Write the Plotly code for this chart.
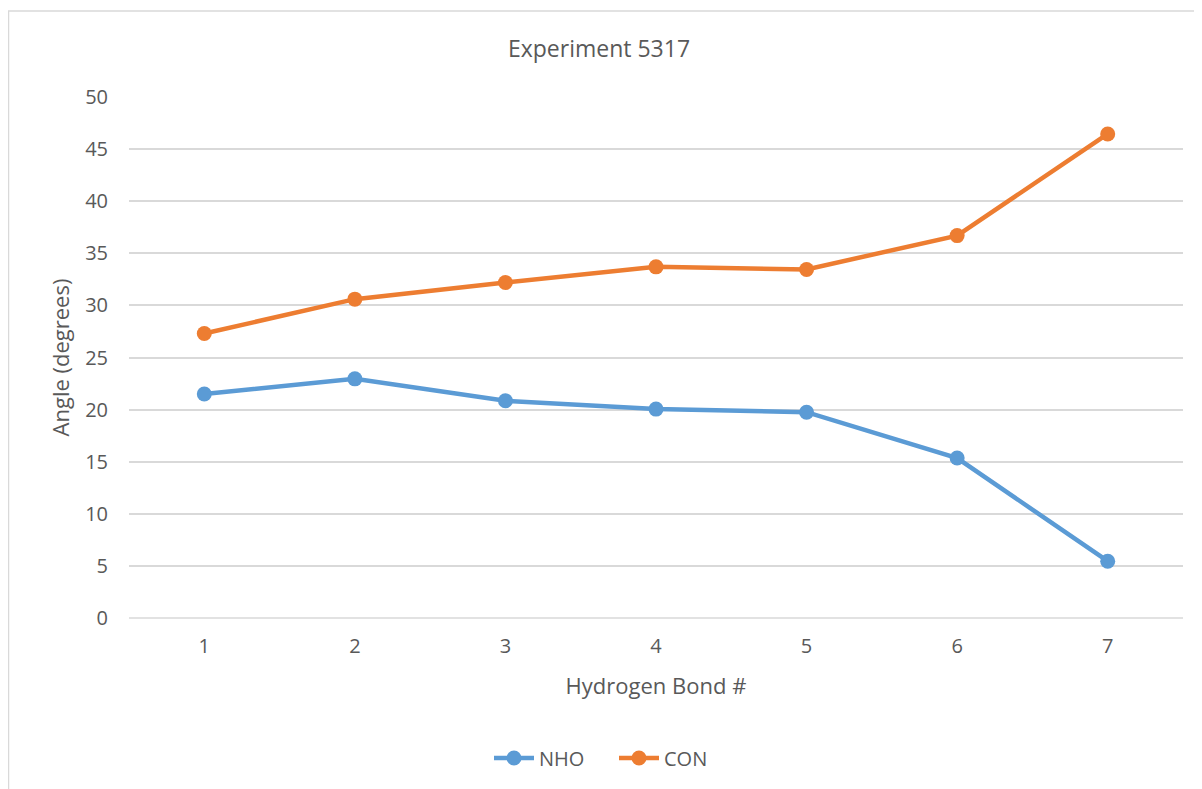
import plotly.graph_objects as go

categories = [1, 2, 3, 4, 5, 6, 7]
nho = [21.5, 22.95, 20.85, 20.05, 19.75, 15.35, 5.45]
con = [27.3, 30.6, 32.2, 33.7, 33.45, 36.7, 46.45]
y_ticks = [0, 5, 10, 15, 20, 25, 30, 35, 40, 45, 50]

FONT = "Open Sans"
TXT = "#595959"

# page offset of the figure inside the browser window
OX, OY = 8, 7
PL, PR, PT, PB = 129 - OX, 1183 - OX, 96 - OY, 617 - OY
PW, PH = PR - PL, PB - PT

fig = go.Figure()
fig.add_trace(go.Scatter(x=categories, y=nho, name="NHO", mode="lines+markers",
                         line=dict(color="#5B9BD5", width=4.5),
                         marker=dict(size=15, color="#5B9BD5")))
fig.add_trace(go.Scatter(x=categories, y=con, name="CON", mode="lines+markers",
                         line=dict(color="#ED7D31", width=4.5),
                         marker=dict(size=15, color="#ED7D31")))

fig.update_layout(
    width=1202, height=789,
    margin=dict(l=PL, r=1202 - PR, t=PT, b=789 - PB, autoexpand=False),
    paper_bgcolor="white", plot_bgcolor="white",
    font=dict(family=FONT, color=TXT, size=20),
    title=dict(text="Experiment 5317", x=(599 - OX) / 1202, xref="container", xanchor="center",
               y=1 - (48 - OY) / 789, yanchor="middle", font=dict(size=23, color=TXT)),
    showlegend=True,
    legend=dict(orientation="h", x=(614 - OX - PL) / PW, xanchor="center", xref="paper",
                y=-(757 - 617) / PH, yanchor="middle",
                font=dict(size=20, color=TXT), itemwidth=40, entrywidth=70),
    xaxis=dict(range=[0.5, 7.5], tickvals=categories, ticktext=[str(c) for c in categories],
               showgrid=False, zeroline=False, showline=False, ticks="",
               ticklabelstandoff=14,
               title=dict(text="Hydrogen Bond #", font=dict(size=22, color=TXT), standoff=20),
               tickfont=dict(size=20, color=TXT)),
    yaxis=dict(range=[0, 50], tickvals=y_ticks, showgrid=True, gridcolor="#D9D9D9", gridwidth=1.5,
               zeroline=False, showline=False, ticks="", ticklen=0,
               ticklabelstandoff=20,
               title=dict(text="Angle (degrees)", font=dict(size=22, color=TXT), standoff=9),
               tickfont=dict(size=20, color=TXT)),
    shapes=[dict(type="line", xref="paper", yref="paper", x0=0, x1=1, y0=0, y1=0,
                 line=dict(color="#D9D9D9", width=1.5), layer="below"),
            dict(type="rect", xref="paper", yref="paper",
                 x0=(0.5 - PL) / PW, x1=(1250 - PL) / PW,
                 y0=-(850 - PB) / PH, y1=(PB - 3) / PH,
                 line=dict(color="#D9D9D9", width=1.5), layer="below")],
)

fig.write_html("out.html")
